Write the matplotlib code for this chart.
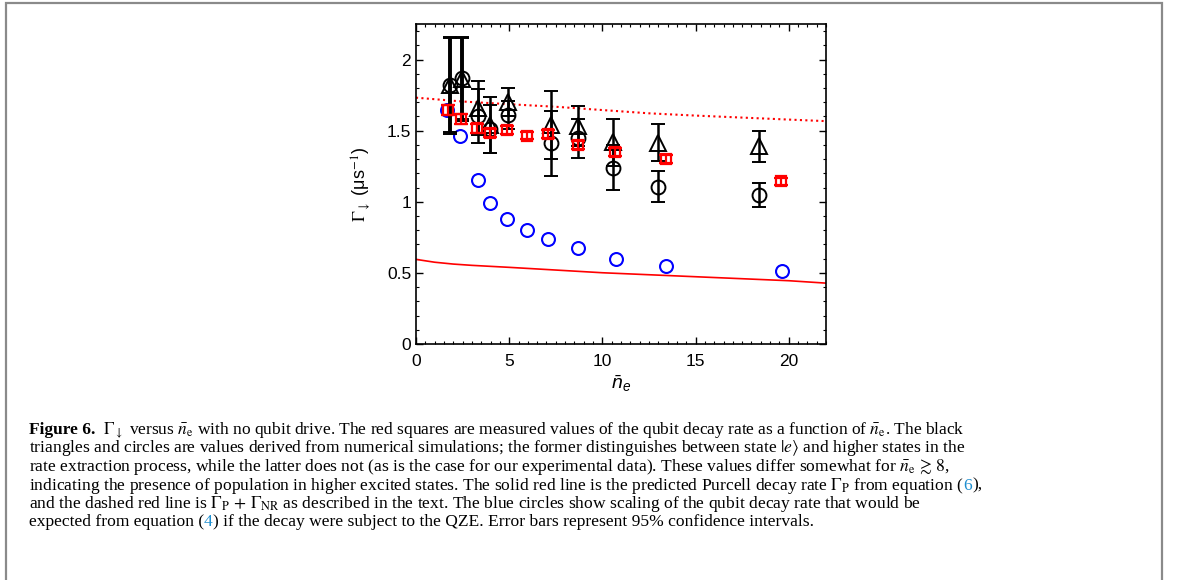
import numpy as np
import matplotlib
matplotlib.use("Agg")
import matplotlib.pyplot as plt
from matplotlib.patches import Rectangle
from matplotlib.ticker import MultipleLocator

plt.rcParams['font.family'] = 'Liberation Sans'
plt.rcParams['mathtext.fontset'] = 'custom'
plt.rcParams['mathtext.rm'] = 'Liberation Sans'
plt.rcParams['mathtext.it'] = 'Liberation Sans:italic'
plt.rcParams['mathtext.bf'] = 'Liberation Sans:bold'

# measured decay rate (red squares)
n_meas = [1.73, 2.40, 3.29, 3.97, 4.86, 5.97, 7.06, 8.67, 10.67, 13.44, 19.61]
g_meas = [1.644, 1.579, 1.516, 1.485, 1.504, 1.466, 1.476, 1.398, 1.349, 1.298, 1.145]
g_meas_err = [0.035, 0.035, 0.03, 0.03, 0.03, 0.025, 0.03, 0.03, 0.03, 0.028, 0.025]

# numerical simulations (black triangles / circles)
n_sim = [1.84, 2.45, 3.35, 3.97, 4.95, 7.22, 8.67, 10.58, 12.99, 18.39]
g_tri = [1.82, 1.86, 1.66, 1.54, 1.70, 1.54, 1.53, 1.42, 1.415, 1.39]
g_tri_err = [0.34, 0.29, 0.19, 0.20, 0.10, 0.24, 0.14, 0.165, 0.13, 0.11]
g_circ = [1.82, 1.87, 1.60, 1.51, 1.61, 1.41, 1.445, 1.24, 1.106, 1.045]
g_circ_err = [0.33, 0.29, 0.19, 0.17, 0.10, 0.23, 0.135, 0.16, 0.11, 0.085]

# QZE expectation (blue circles)
n_qze = [1.65, 2.36, 3.31, 3.95, 4.88, 5.95, 7.06, 8.70, 10.72, 13.44, 19.64]
g_qze = [1.644, 1.462, 1.155, 0.991, 0.878, 0.801, 0.735, 0.675, 0.595, 0.548, 0.515]

# Purcell rate (solid) and Purcell + NR (dotted)
n_line = [0, 1, 2, 3, 5, 7.5, 10, 12.5, 15, 17.5, 20, 22]
g_purcell = [0.595, 0.575, 0.562, 0.553, 0.539, 0.52, 0.501, 0.487, 0.473, 0.459, 0.445, 0.428]
n_dot = [0, 2.5, 5, 7.5, 10, 12.5, 15, 17.5, 20, 22]
g_purcell_nr = [1.732, 1.705, 1.686, 1.668, 1.645, 1.622, 1.606, 1.592, 1.578, 1.567]

W, H = 1179, 580
fig = plt.figure(figsize=(W / 100, H / 100), dpi=100)
ax = fig.add_axes([416 / W, 1 - 344 / H, 410 / W, 320 / H])

ax.plot(n_line, g_purcell, color='red', lw=1.2)
ax.plot(n_dot, g_purcell_nr, color='red', lw=1.5, ls=(0, (1, 1.6)))
ax.plot(n_qze, g_qze, 'o', ms=9.3, mfc='none', mec='blue', mew=1.5, zorder=2)
bar_lw = [2.6, 2.6] + [1.8] * 8
for g, e, m, ms in [(g_tri, g_tri_err, '^', 11), (g_circ, g_circ_err, 'o', 10)]:
    eb = ax.errorbar(n_sim, g, yerr=e, fmt=m, ms=ms, mfc='none', mec='black',
                     mew=1.4, ecolor='black', elinewidth=1.8, capsize=5, capthick=1.8, zorder=3)
    eb[2][0].set_linewidths(bar_lw)
ax.errorbar(n_meas, g_meas, yerr=g_meas_err, fmt='s', ms=7.5, mfc='none', mec='red',
            mew=1.6, ecolor='red', elinewidth=1.6, capsize=4.8, capthick=1.8, zorder=4)

ax.set_xlim(0, 22)
ax.set_ylim(0, 2.25)
ax.set_xticks([0, 5, 10, 15, 20])
ax.set_yticks([0, 0.5, 1, 1.5, 2])
ax.set_yticklabels(['0', '0.5', '1', '1.5', '2'])
ax.xaxis.set_minor_locator(MultipleLocator(0.5))
ax.yaxis.set_minor_locator(MultipleLocator(0.1))
ax.tick_params(which='both', direction='in', top=True, right=True, labelsize=12.5)
ax.tick_params(which='major', length=5, width=1)
ax.tick_params(which='minor', length=2.5, width=0.8)
ax.tick_params(axis='x', pad=7)
for s in ax.spines.values():
    s.set_linewidth(1.2)
ax.set_xlabel(r'$\bar{n}_e$', fontsize=14, labelpad=3)
ax.set_ylabel(r'$\Gamma_{\downarrow}$ (μs$^{-1}$)', fontsize=13, math_fontfamily='stix', labelpad=10)

# page frame
fig.patches.append(Rectangle((6 / W, -0.1), 1156 / W, 1.1 - 3 / H, transform=fig.transFigure,
                             fill=False, edgecolor='#8a8a8a', lw=1.6))

# caption, each line fitted (up to a size cap) to the width it has in the page
cap = dict(family='Liberation Serif', math_fontfamily='stix', va='baseline')
renderer = fig.canvas.get_renderer()


def caption_line(y, x_end, pieces, size=12.5, max_size=12.6):
    x0 = 29
    for attempt in range(2):
        x = x0
        texts = []
        for s, kw in pieces:
            t = fig.text(x / W, 1 - y / H, s, fontsize=size, **cap, **kw)
            x += t.get_window_extent(renderer).width
            texts.append(t)
        if attempt == 0:
            size = min(size * (x_end - x0) / (x - x0), max_size)
            for t in texts:
                t.remove()


link = dict(color='#1f8fd0')
caption_line(434, 963, [('Figure 6.', dict(weight='bold')),
                        (r'  $\Gamma_{\downarrow}$ versus $\bar{n}_{\rm e}$ with no qubit drive. The red squares are '
                         r'measured values of the qubit decay rate as a function of $\bar{n}_{\rm e}$. The black', {})])
caption_line(452.5, 1053, [(r'triangles and circles are values derived from numerical simulations; the former '
                            r'distinguishes between state $|e\rangle$ and higher states in the', {})])
caption_line(471, 1037, [(r'rate extraction process, while the latter does not (as is the case for our experimental '
                          r'data). These values differ somewhat for $\bar{n}_{\rm e}\,\gtrsim\,8$,', {})])
caption_line(489.5, 1063, [(r'indicating the presence of population in higher excited states. The solid red line is '
                            r'the predicted Purcell decay rate $\Gamma_{\rm P}$ from equation (', {}),
                           ('6', link), ('),', {})])
caption_line(508, 997, [(r'and the dashed red line is $\Gamma_{\rm P}\,+\,\Gamma_{\rm NR}$ as described in the text. '
                         r'The blue circles show scaling of the qubit decay rate that would be', {})])
caption_line(526.5, 893, [('expected from equation (', {}), ('4', link),
                          (') if the decay were subject to the QZE. Error bars represent 95% confidence intervals.', {})])

fig.savefig('out.png', dpi=100)
